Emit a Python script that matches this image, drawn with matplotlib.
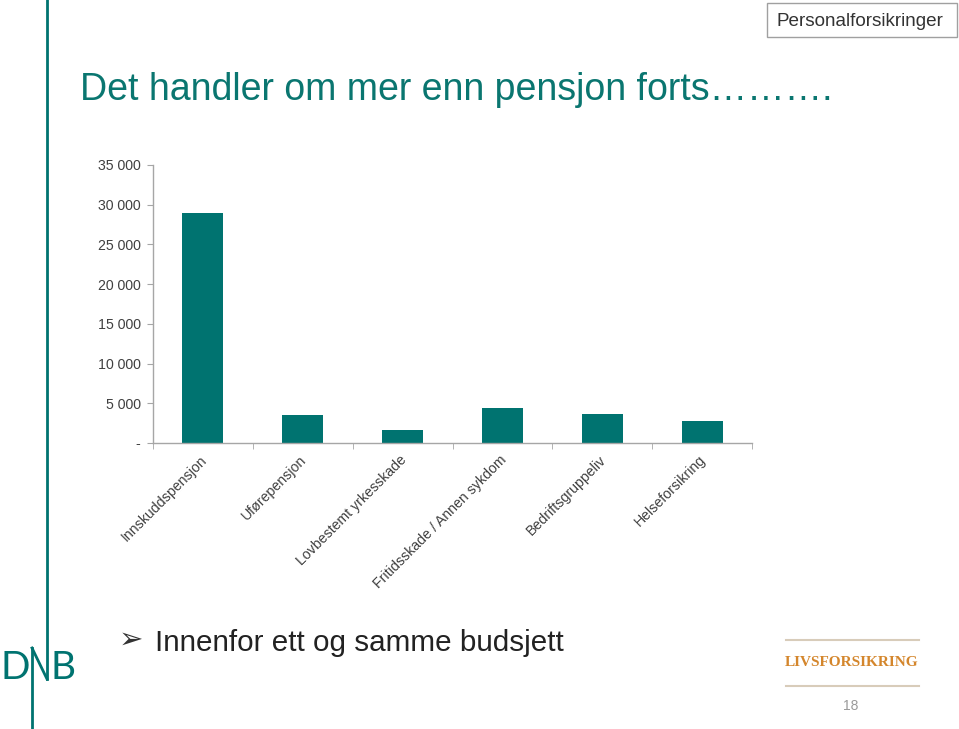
import matplotlib
matplotlib.use("Agg")
import matplotlib.pyplot as plt
from matplotlib.patches import Rectangle
from matplotlib.lines import Line2D
from matplotlib.ticker import FuncFormatter, FixedLocator

categories = ["Innskuddspensjon", "Uførepensjon", "Lovbestemt yrkesskade",
              "Fritidsskade / Annen sykdom", "Bedriftsgruppeliv", "Helseforsikring"]
values = [29000, 3500, 1600, 4400, 3600, 2800]
yticks = [0, 5000, 10000, 15000, 20000, 25000, 30000, 35000]

title_text = "Det handler om mer enn pensjon forts………."
header_text = "Personalforsikringer"
bullet_text = "Innenfor ett og samme budsjett"
brand_text = "LIVSFORSIKRING"
page_text = "18"

W, H = 959, 729
TEAL = "#007370"
fig = plt.figure(figsize=(W / 100, H / 100), dpi=100)
plt.rcParams['font.family'] = ['Liberation Sans', 'DejaVu Sans']

def fx(x):
    return x / W

def fy(y):
    return 1 - y / H

# axes
L, R, T, B = 153, 752, 165, 443
ax = fig.add_axes([fx(L), fy(B), fx(R) - fx(L), fy(T) - fy(B)])
x = list(range(len(categories)))
ax.bar(x, values, width=0.41, color=TEAL)
ax.set_xlim(-0.5, len(categories) - 0.5)
ax.set_ylim(0, 35000)
ax.set_yticks(yticks)
ax.yaxis.set_major_formatter(FuncFormatter(
    lambda v, p: "-" if v == 0 else f"{int(v):,}".replace(",", " ")))
for s in ["top", "right"]:
    ax.spines[s].set_visible(False)
for s in ["left", "bottom"]:
    ax.spines[s].set_color("#A6A6A6")
    ax.spines[s].set_linewidth(1.0)
ax.tick_params(axis="y", direction="out", length=4, color="#A6A6A6",
               labelsize=10.2, labelcolor="#404040", pad=5)
ax.set_xticks(x)
ax.set_xticklabels(categories, rotation=45, ha="right", va="top",
                   rotation_mode="anchor", fontsize=10.2, color="#404040")
ax.tick_params(axis="x", which="major", length=0, pad=7)
ax.xaxis.set_minor_locator(FixedLocator([i - 0.5 for i in range(len(categories) + 1)]))
ax.tick_params(axis="x", which="minor", direction="out", length=4, color="#A6A6A6")
ax.patch.set_alpha(0)
# nudge rotated labels slightly left so they end at the bar centre
import matplotlib.transforms as mtransforms
offset = mtransforms.ScaledTranslation(-3 / 100, 0, fig.dpi_scale_trans)
for lbl in ax.get_xticklabels():
    lbl.set_transform(lbl.get_transform() + offset)

# title
fig.text(fx(80), fy(100), title_text, fontsize=27, color="#0A7670",
         ha="left", va="baseline")

# header box
fig.add_artist(Rectangle((fx(767), fy(37)), fx(957) - fx(767), fy(3) - fy(37),
                         transform=fig.transFigure, fill=False,
                         edgecolor="#A0A0A0", linewidth=1.0))
fig.text(fx(860), fy(21), header_text, fontsize=13.6, color="#333333",
         ha="center", va="center")

# left vertical line and DNB logo
fig.add_artist(Line2D([fx(47), fx(47)], [fy(0), fy(679)], transform=fig.transFigure,
                      color=TEAL, linewidth=2))
fig.add_artist(Line2D([fx(32), fx(32)], [fy(648), fy(729)], transform=fig.transFigure,
                      color=TEAL, linewidth=2))
fig.add_artist(Line2D([fx(32), fx(47)], [fy(648), fy(679)], transform=fig.transFigure,
                      color=TEAL, linewidth=2))
fig.text(fx(0), fy(679), "D", fontsize=28, color=TEAL, ha="left", va="baseline",
         family=["Lato", "DejaVu Sans"])
fig.text(fx(50), fy(679), "B", fontsize=28, color=TEAL, ha="left", va="baseline",
         family=["Lato", "DejaVu Sans"])

# bullet
fig.text(fx(119), fy(640), "➢", fontsize=21, color="#333333", ha="left", va="center",
         family=["DejaVu Sans"])
fig.text(fx(155), fy(651), bullet_text, fontsize=21.3, color="#222222",
         ha="left", va="baseline")

# brand block
for yy in (640, 686):
    fig.add_artist(Line2D([fx(786), fx(919)], [fy(yy), fy(yy)], transform=fig.transFigure,
                          color="#D8CCBA", linewidth=1.5))
fig.text(fx(852), fy(662), brand_text, fontsize=11, color="#D4862C",
         ha="center", va="center", family=["Liberation Serif"], fontweight="bold")
fig.text(fx(851), fy(706), page_text, fontsize=10, color="#9A9A9A",
         ha="center", va="center")

fig.savefig("out.png", dpi=100)
